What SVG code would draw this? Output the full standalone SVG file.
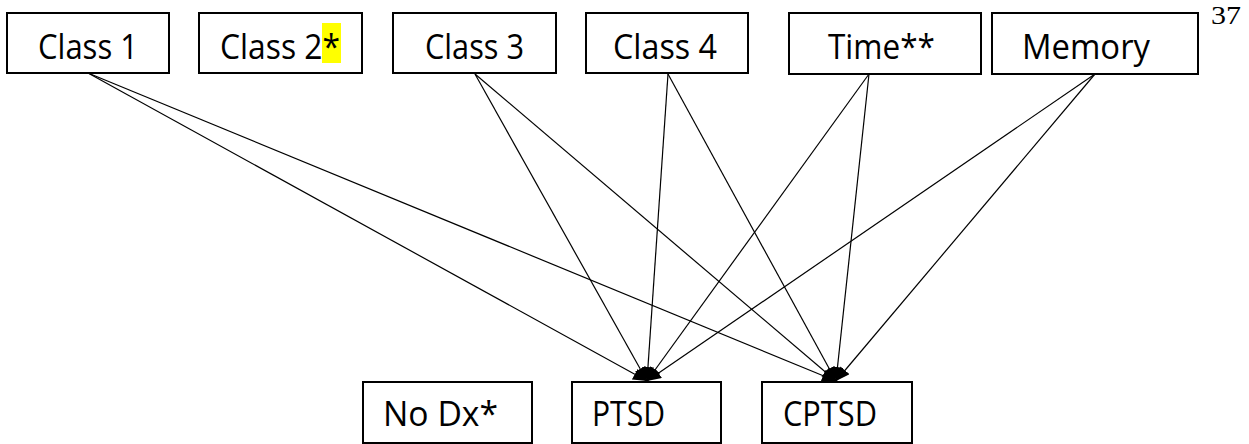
<svg xmlns="http://www.w3.org/2000/svg" width="1249" height="444" viewBox="0 0 1249 444">
<style>
.box{fill:#fff;stroke:#000;stroke-width:2}
.lbl{font-family:"Open Sans","Liberation Sans",sans-serif;font-size:34px;fill:#000}
.ln{stroke:#000;stroke-width:1.2;fill:none}
</style>
<defs>
<marker id="ah" viewBox="0 0 14 12" refX="14" refY="6" markerWidth="14" markerHeight="12" markerUnits="userSpaceOnUse" orient="auto">
<path d="M0,0 L14,6 L0,12 Z" fill="#000"/>
</marker>
</defs>
<rect width="1249" height="444" fill="#fff"/>
<text x="1211" y="24" font-family="Liberation Serif,serif" font-size="26" textLength="30" lengthAdjust="spacingAndGlyphs">37</text>
<g id="class1"><rect class="box" x="7" y="13" width="162" height="60"/><text class="lbl" x="38" y="59" textLength="100" lengthAdjust="spacingAndGlyphs">Class 1</text></g>
<g id="class2"><rect class="box" x="199" y="13" width="163" height="60"/><rect x="322" y="23" width="19" height="40" fill="#ffff00"/><text class="lbl" x="220" y="59" textLength="120" lengthAdjust="spacingAndGlyphs">Class 2*</text></g>
<g id="class3"><rect class="box" x="393" y="13" width="163" height="60"/><text class="lbl" x="425" y="59" textLength="99" lengthAdjust="spacingAndGlyphs">Class 3</text></g>
<g id="class4"><rect class="box" x="586" y="13" width="162" height="60"/><text class="lbl" x="613" y="59" textLength="104" lengthAdjust="spacingAndGlyphs">Class 4</text></g>
<g id="time"><rect class="box" x="789" y="13" width="192" height="61"/><text class="lbl" x="828" y="59" textLength="107" lengthAdjust="spacingAndGlyphs">Time**</text></g>
<g id="memory"><rect class="box" x="992" y="13" width="206" height="61"/><text class="lbl" x="1022" y="59" textLength="128" lengthAdjust="spacingAndGlyphs">Memory</text></g>
<g id="nodx"><rect class="box" x="363" y="382" width="169" height="61"/><text class="lbl" x="383" y="426" textLength="115" lengthAdjust="spacingAndGlyphs">No Dx*</text></g>
<g id="ptsd"><rect class="box" x="572" y="382" width="149" height="61"/><text class="lbl" x="592" y="426" textLength="73" lengthAdjust="spacingAndGlyphs">PTSD</text></g>
<g id="cptsd"><rect class="box" x="762" y="382" width="150" height="61"/><text class="lbl" x="783" y="426" textLength="94" lengthAdjust="spacingAndGlyphs">CPTSD</text></g>
<g id="connectors">
<line class="ln" x1="88" y1="73" x2="647" y2="381" marker-end="url(#ah)"/>
<line class="ln" x1="88" y1="73" x2="836" y2="381" marker-end="url(#ah)"/>
<line class="ln" x1="475" y1="74" x2="647" y2="381" marker-end="url(#ah)"/>
<line class="ln" x1="475" y1="74" x2="836" y2="381" marker-end="url(#ah)"/>
<line class="ln" x1="668" y1="74" x2="647" y2="381" marker-end="url(#ah)"/>
<line class="ln" x1="668" y1="74" x2="836" y2="381" marker-end="url(#ah)"/>
<line class="ln" x1="869" y1="74" x2="647" y2="381" marker-end="url(#ah)"/>
<line class="ln" x1="869" y1="74" x2="836" y2="381" marker-end="url(#ah)"/>
<line class="ln" x1="1095" y1="74" x2="647" y2="381" marker-end="url(#ah)"/>
<line class="ln" x1="1095" y1="74" x2="836" y2="381" marker-end="url(#ah)"/>
</g>
</svg>
